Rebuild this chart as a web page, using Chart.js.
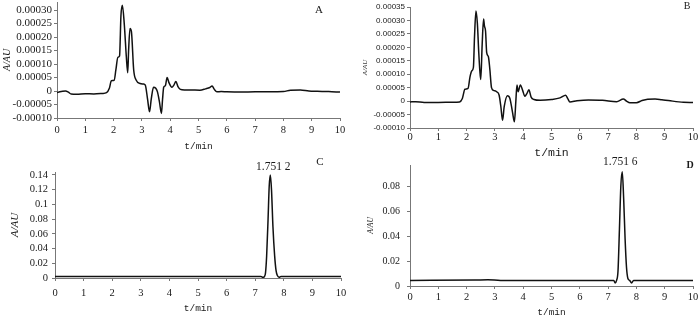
<!DOCTYPE html>
<html lang="zh">
<head>
<meta charset="UTF-8">
<title>Chromatograms A-D</title>
<script src="https://cdn.jsdelivr.net/npm/chart.js"></script>
<style>
  html, body { margin: 0; padding: 0; background: #fff; }
  body { width: 700px; height: 316px; position: relative; overflow: hidden; }
  canvas { position: absolute; }
</style>
</head>
<body>
<canvas id="chartA"></canvas>
<canvas id="chartB"></canvas>
<canvas id="chartC"></canvas>
<canvas id="chartD"></canvas>
<script>
// retention time (min) and absorbance (AU)
const aTime = [0, 0.1, 0.2, 0.3, 0.4, 0.5, 0.7, 1.0, 1.3, 1.6,
  1.75, 1.85, 1.92, 2.02, 2.08, 2.15, 2.21, 2.26, 2.31, 2.38,
  2.45, 2.5, 2.53, 2.58, 2.63, 2.71, 2.8, 2.94, 3.05, 3.12,
  3.2, 3.27, 3.33, 3.41, 3.49, 3.55, 3.62, 3.69, 3.73, 3.77,
  3.83, 3.89, 3.96, 4.06, 4.13, 4.2, 4.28, 4.36, 4.5, 4.7,
  5.05, 5.25, 5.4, 5.48, 5.56, 5.65, 5.8, 6.0, 6.5, 7.0,
  7.5, 8.0, 8.25, 8.6, 8.9, 9.2, 9.6, 10];
const aAbs = [-6e-6, -3e-6, -1e-6, 0, -4e-6, -11e-6, -12e-6, -10e-6, -11e-6, -9e-6,
  -6e-6, 10e-6, 38e-6, 40e-6, 78e-6, 125e-6, 130e-6, 280e-6, 318e-6, 244e-6,
  127e-6, 68e-6, 150e-6, 232e-6, 220e-6, 78e-6, 40e-6, 28e-6, 26e-6, 22e-6,
  -30e-6, -77e-6, -30e-6, 14e-6, 10e-6, -3e-6, -40e-6, -83e-6, -30e-6, 14e-6,
  20e-6, 50e-6, 30e-6, 14e-6, 22e-6, 35e-6, 15e-6, 6e-6, 4e-6, 4e-6,
  3e-6, 8e-6, 13e-6, 19e-6, 6e-6, -3e-6, -2e-6, -3e-6, -4e-6, -3e-6,
  -3e-6, -2e-6, 3e-6, 4e-6, 0, -1e-6, -2e-6, -4e-6];

const bTime = [0, 0.2, 0.5, 1.0, 1.5, 1.75, 1.85, 1.94, 2.05, 2.12,
  2.18, 2.24, 2.28, 2.33, 2.38, 2.43, 2.47, 2.5, 2.55, 2.6,
  2.63, 2.67, 2.71, 2.77, 2.82, 2.88, 2.95, 3.06, 3.15, 3.21,
  3.27, 3.33, 3.44, 3.53, 3.62, 3.69, 3.74, 3.78, 3.82, 3.9,
  3.98, 4.06, 4.13, 4.2, 4.28, 4.38, 4.6, 5.0, 5.3, 5.5,
  5.58, 5.65, 5.9, 6.3, 6.8, 7.3, 7.54, 7.65, 7.77, 8.0,
  8.2, 8.4, 8.66, 8.9, 9.2, 9.66, 10];
const bAbs = [-3e-6, -2e-6, -5e-6, -5e-6, -4e-6, -3e-6, 10e-6, 44e-6, 47e-6, 90e-6,
  112e-6, 125e-6, 240e-6, 335e-6, 290e-6, 180e-6, 110e-6, 80e-6, 210e-6, 305e-6,
  280e-6, 260e-6, 180e-6, 165e-6, 120e-6, 50e-6, 40e-6, 35e-6, 22e-6, -20e-6,
  -71e-6, -20e-6, 20e-6, 10e-6, -40e-6, -77e-6, 0, 60e-6, 35e-6, 60e-6,
  40e-6, 18e-6, 28e-6, 42e-6, 15e-6, 6e-6, 3e-6, 6e-6, 12e-6, 22e-6,
  8e-6, -3e-6, 1e-6, 4e-6, 3e-6, -2e-6, 8e-6, 0, -6e-6, -6e-6,
  2e-6, 7e-6, 8e-6, 5e-6, 1e-6, -4e-6, -5e-6];

const cTime = [0, 2, 4, 6, 7.2, 7.27, 7.32, 7.36, 7.4, 7.45, 7.49, 7.53, 7.57, 7.62, 7.68, 7.73, 7.78, 7.84, 7.9, 9, 10];
const cAbs = [0.0022, 0.0022, 0.0022, 0.0022, 0.0022, 0.0008, 0.002, 0.007, 0.03, 0.08, 0.125, 0.14, 0.12, 0.07, 0.03, 0.01, 0.003, 0.001, 0.0022, 0.0022, 0.0022];

const dTime = [0, 2.3, 2.75, 3.2, 7.2, 7.25, 7.3, 7.35, 7.4, 7.45, 7.5, 7.55, 7.6, 7.65, 7.7, 7.76, 7.83, 7.9, 10];
const dAbs = [0.0045, 0.0048, 0.005, 0.0045, 0.0045, 0.0025, 0.0045, 0.012, 0.045, 0.08, 0.0915, 0.07, 0.038, 0.015, 0.006, 0.0045, 0.0025, 0.0045, 0.0045];

const panelLetters = ['A', 'B', 'C', 'D'];
const peakLabels = ['1.751 2', '1.751 6'];

const MONO = '"Liberation Mono", monospace';
const SANS = '"Liberation Sans", sans-serif';
const SERIF = '"Liberation Serif", serif';
const axisColor = '#777';
const textColor = '#1a1a1a';

const fmtSmall = v => Math.abs(v) < 1e-9 ? '0' : v.toFixed(5);
const fmtLarge = v => Math.abs(v) < 1e-9 ? '0' : String(Math.round(v * 100) / 100);

// letters and peak labels
const panelText = {
  id: 'panelText',
  afterDraw(chart, args, opts) {
    const {ctx, chartArea, scales} = chart;
    ctx.save();
    ctx.fillStyle = textColor;
    ctx.textAlign = 'center';
    ctx.textBaseline = 'middle';
    ctx.font = opts.letterFont;
    ctx.fillText(opts.letter, chartArea.right + opts.letterDx, chartArea.top + opts.letterDy);
    if (opts.peak) {
      ctx.font = opts.peakFont;
      const px = scales.x.getPixelForValue(opts.peak.t) + opts.peak.dx;
      const py = scales.y.getPixelForValue(opts.peak.v) + opts.peak.dy;
      ctx.fillText(opts.peak.text, px, py);
    }
    ctx.restore();
  }
};

function buildPanel(id, time, abs, p) {
  const canvas = document.getElementById(id);
  const padTop = 14;
  const canvasTop = p.area.top - padTop;
  const titleLh = p.xTitleFont.size * 1.2;
  const h = Math.round(p.titleY + titleLh / 2 - canvasTop);
  canvas.width = 350;
  canvas.height = h;
  canvas.style.left = p.left + 'px';
  canvas.style.top = canvasTop + 'px';

  const xAxisH = canvasTop + h - p.area.bottom;
  const yAxisW = p.area.left - p.left;
  const tl = 3;
  const xPad = 1;
  const xLh = 2 * (p.labelY - p.area.bottom - tl - xPad) / p.xTickFont.size;
  const yPad = p.area.left - p.yLabelRight - tl;
  const yTitleLh = p.yTitleFont.size * 1.2;
  const yTitlePad = Math.max(p.yTitleX - p.left - yTitleLh / 2, 0);

  let peak = null;
  if (p.peakText) {
    const vmax = Math.max(...abs);
    const i = abs.indexOf(vmax);
    peak = { t: time[i], v: vmax, text: p.peakText, dx: p.peakDx, dy: p.peakDy };
  }

  return new Chart(canvas, {
    type: 'line',
    data: {
      datasets: [{
        data: time.map((t, i) => ({ x: t, y: abs[i] })),
        borderColor: '#111',
        borderWidth: 1.5,
        pointRadius: 0,
        cubicInterpolationMode: 'monotone',
        fill: false
      }]
    },
    options: {
      responsive: false,
      animation: false,
      events: [],
      layout: { padding: { top: padTop, left: 0, bottom: 0, right: p.left + 350 - p.area.right } },
      plugins: {
        legend: { display: false },
        tooltip: { enabled: false },
        panelText: {
          letter: p.letter, letterFont: p.letterFont, letterDx: p.letterDx, letterDy: p.letterDy,
          peak: peak, peakFont: '11.5px ' + SERIF
        }
      },
      scales: {
        x: {
          type: 'linear', min: 0, max: 10,
          afterFit: s => { s.height = xAxisH; },
          grid: { drawOnChartArea: false, drawTicks: true, tickLength: tl, color: axisColor },
          border: { color: axisColor, width: 1 },
          ticks: { stepSize: 1, padding: xPad, color: textColor, maxRotation: 0, autoSkip: false,
                   font: Object.assign({}, p.xTickFont, { lineHeight: xLh }) },
          title: { display: true, text: 't/min', color: textColor, font: p.xTitleFont, padding: 0 }
        },
        y: {
          min: p.yMin, max: p.yMax,
          afterFit: s => { s.width = yAxisW; },
          grid: { drawOnChartArea: false, drawTicks: true, tickLength: tl, color: axisColor },
          border: { color: axisColor, width: 1 },
          ticks: { stepSize: p.yStep, includeBounds: false, autoSkip: false, padding: yPad, color: textColor,
                   callback: p.yFormat, font: p.yTickFont },
          title: { display: true, text: 'A/AU', color: textColor, font: p.yTitleFont,
                   padding: { top: yTitlePad, bottom: 0 } }
        }
      }
    },
    plugins: [panelText]
  });
}

buildPanel('chartA', aTime, aAbs, {
  left: 0, area: { left: 57, right: 340, top: 2, bottom: 118 },
  labelY: 130, titleY: 146, yLabelRight: 52, yTitleX: 7,
  yMin: -0.0001, yMax: 0.00033, yStep: 0.00005, yFormat: fmtSmall,
  yTickFont: { family: SERIF, size: 11 }, xTickFont: { family: SERIF, size: 10.5 },
  xTitleFont: { family: MONO, size: 9.5 }, yTitleFont: { family: SERIF, size: 10, style: 'italic' },
  letter: panelLetters[0], letterFont: '11px ' + SERIF, letterDx: -21, letterDy: 8
});

buildPanel('chartB', bTime, bAbs, {
  left: 350, area: { left: 410, right: 693, top: 7, bottom: 128 },
  labelY: 137, titleY: 153, yLabelRight: 405, yTitleX: 365,
  yMin: -0.0001, yMax: 0.00035, yStep: 0.00005, yFormat: fmtSmall,
  yTickFont: { family: SANS, size: 8 }, xTickFont: { family: SERIF, size: 10.5 },
  xTitleFont: { family: MONO, size: 11.5 }, yTitleFont: { family: SERIF, size: 7, style: 'italic' },
  letter: panelLetters[1], letterFont: '10px ' + SERIF, letterDx: -6, letterDy: -1
});

buildPanel('chartC', cTime, cAbs, {
  left: 0, area: { left: 55, right: 341, top: 172, bottom: 278 },
  labelY: 293, titleY: 308, yLabelRight: 48, yTitleX: 15,
  yMin: 0, yMax: 0.144, yStep: 0.02, yFormat: fmtLarge,
  yTickFont: { family: SERIF, size: 10.5 }, xTickFont: { family: SERIF, size: 10.5 },
  xTitleFont: { family: MONO, size: 9.5 }, yTitleFont: { family: SERIF, size: 11, style: 'italic' },
  letter: panelLetters[2], letterFont: '11px ' + SERIF, letterDx: -21, letterDy: -10,
  peakText: peakLabels[0], peakDx: 3, peakDy: -8
});

buildPanel('chartD', dTime, dAbs, {
  left: 350, area: { left: 410, right: 693, top: 165, bottom: 286 },
  labelY: 297, titleY: 312, yLabelRight: 400, yTitleX: 371,
  yMin: 0, yMax: 0.097, yStep: 0.02, yFormat: fmtLarge,
  yTickFont: { family: SERIF, size: 10 }, xTickFont: { family: SERIF, size: 10.5 },
  xTitleFont: { family: MONO, size: 9.5 }, yTitleFont: { family: SERIF, size: 7.5, style: 'italic' },
  letter: panelLetters[3], letterFont: 'bold 10px ' + SERIF, letterDx: -3, letterDy: 0,
  peakText: peakLabels[1], peakDx: -2, peakDy: -10
});
</script>
</body>
</html>
